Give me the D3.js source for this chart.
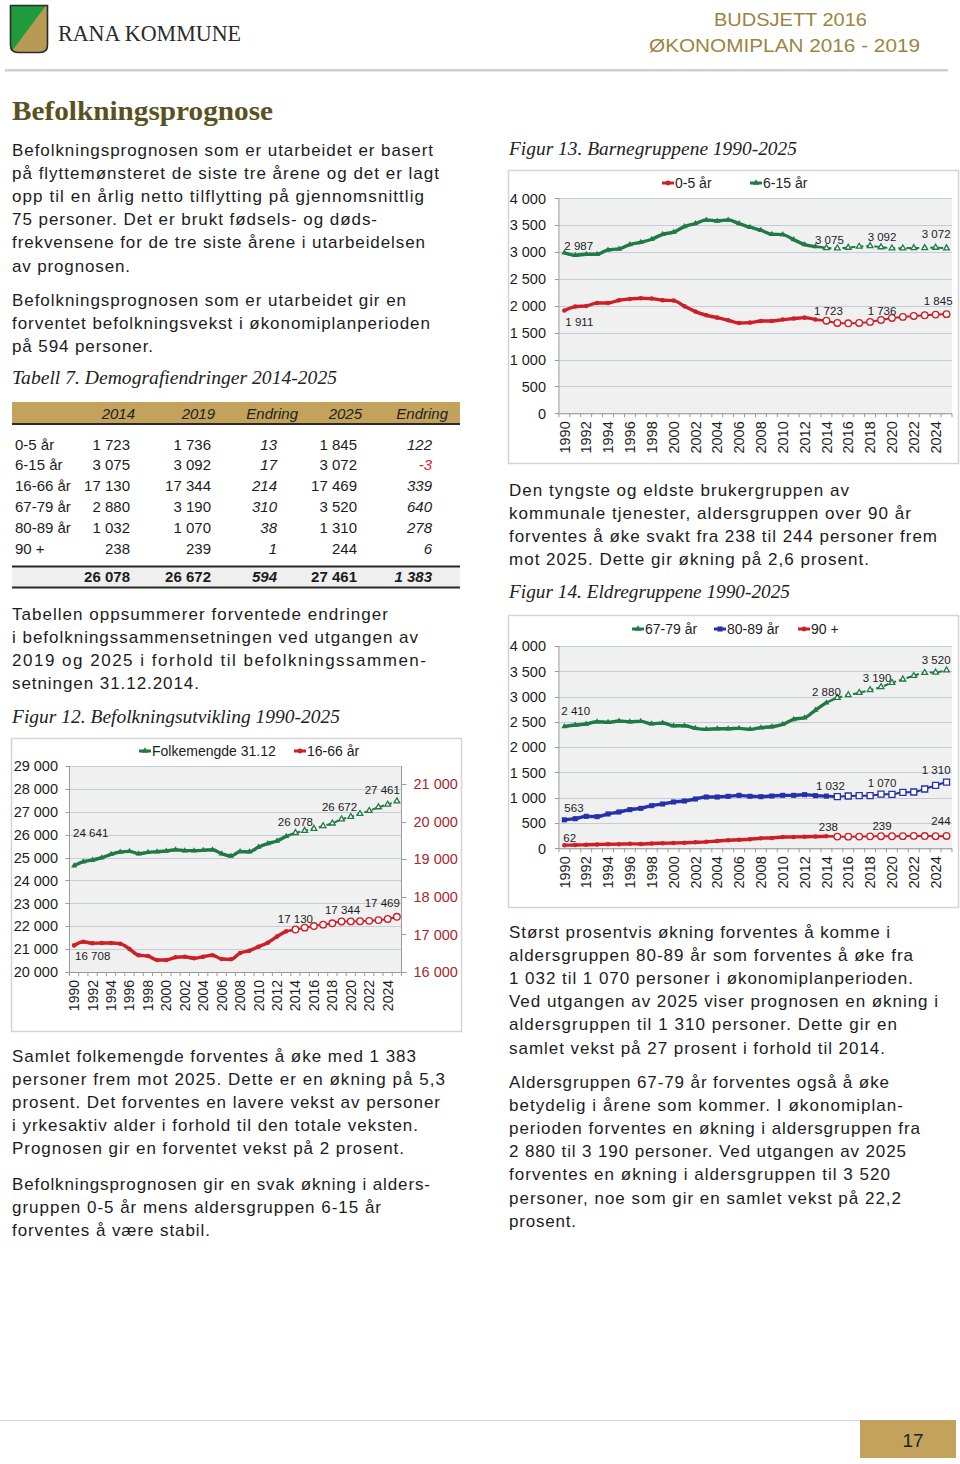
<!DOCTYPE html>
<html><head><meta charset="utf-8">
<script src="https://cdn.jsdelivr.net/npm/d3@7"></script>
<style>
body{margin:0;background:#fff}
svg{display:block;font-family:"Liberation Sans",Arial,sans-serif}
</style>
</head><body>
<svg id="page" width="960" height="1464"></svg>
<script>
// ---------------- DATA ----------------
const years = [1990,1991,1992,1993,1994,1995,1996,1997,1998,1999,2000,2001,2002,2003,2004,2005,2006,2007,2008,2009,2010,2011,2012,2013,2014,2015,2016,2017,2018,2019,2020,2021,2022,2023,2024,2025];
const yearTickLabels = [1990,1992,1994,1996,1998,2000,2002,2004,2006,2008,2010,2012,2014,2016,2018,2020,2022,2024];

// Figur 12
const folkemengde = [24641,24820,24893,24994,25142,25243,25272,25169,25228,25257,25287,25344,25301,25301,25316,25344,25169,25070,25260,25250,25460,25610,25725,25930,26078,26174,26261,26377,26493,26672,26783,26913,27043,27203,27319,27461];
const aar16_66 = [16708,16806,16763,16771,16771,16753,16612,16444,16426,16319,16319,16390,16407,16364,16407,16444,16346,16337,16506,16568,16674,16781,16941,17083,17130,17179,17223,17259,17295,17344,17345,17350,17360,17380,17410,17469];
const fig12LeftTicks = [20000,21000,22000,23000,24000,25000,26000,27000,28000,29000];
const fig12RightTicks = [16000,17000,18000,19000,20000,21000];

// Figur 13
const aar0_5 = [1911,1985,1998,2053,2053,2103,2128,2140,2134,2103,2097,1991,1892,1824,1780,1731,1681,1687,1718,1718,1743,1762,1780,1743,1723,1681,1675,1681,1700,1736,1774,1793,1811,1824,1836,1845];
const aar6_15 = [2987,2940,2959,2959,3040,3058,3139,3182,3238,3331,3369,3474,3530,3598,3579,3598,3530,3462,3406,3331,3325,3232,3139,3102,3075,3071,3083,3102,3114,3092,3071,3071,3077,3077,3083,3072];

// Figur 14
const aar67_79 = [2410,2437,2457,2503,2490,2516,2503,2510,2464,2477,2424,2424,2372,2352,2365,2365,2372,2352,2385,2404,2451,2549,2582,2734,2880,2978,3030,3076,3129,3190,3274,3340,3412,3471,3478,3520];
const aar80_89 = [563,586,632,626,679,718,764,790,843,876,916,935,975,1014,1014,1028,1047,1028,1021,1034,1047,1047,1061,1041,1032,1021,1034,1041,1041,1070,1067,1107,1113,1173,1245,1310];
const aar90 = [62,65,70,75,80,82,88,85,95,100,105,110,118,128,145,158,168,180,200,205,222,225,228,232,238,232,230,232,236,239,238,240,245,242,240,244];
const smallTicks = [0,500,1000,1500,2000,2500,3000,3500,4000];

// Tabell 7
const tableHeader = ["2014","2019","Endring","2025","Endring"];
const tableRows = ["0-5 år","6-15 år","16-66 år","67-79 år","80-89 år","90 +"];
const val2014 = [1723,3075,17130,2880,1032,238];
const val2019 = [1736,3092,17344,3190,1070,239];
const chg2019 = [13,17,214,310,38,1];
const val2025 = [1845,3072,17469,3520,1310,244];
const chg2025 = [122,-3,339,640,278,6];
const tableTotals = [26078,26672,594,27461,1383];

// ---------------- HELPERS ----------------
const svg = d3.select("#page");
const NF = d3.formatLocale({decimal:",",thousands:" ",grouping:[3],currency:["",""],minus:"-"}).format(",d");
const GREEN = "#1f7a45", RED = "#cc1f26", BLUE = "#2630a8", GOLD = "#c3a35c";
const SERIF = '"Liberation Serif","DejaVu Serif",serif';

function line(x, y, str, o) {
  o = o || {};
  const t = svg.append("text").attr("x", x).attr("y", y).text(str)
    .attr("font-size", o.size || 17)
    .attr("fill", o.fill || "#1c1c1c");
  if (o.family) t.style("font-family", o.family);
  if (o.weight) t.attr("font-weight", o.weight);
  if (o.style) t.attr("font-style", o.style);
  if (o.anchor) t.attr("text-anchor", o.anchor);
  if (o.width) t.attr("textLength", o.width).attr("lengthAdjust", o.adjust || "spacing");
  return t;
}

// ---------------- HEADER ----------------
const logo = svg.append("g");
logo.append("path").attr("d","M10.5,5.5 H47.5 V45 Q47.5,52.5 40,52.5 H18 Q10.5,52.5 10.5,45 Z").attr("fill","#b89a55");
logo.append("path").attr("d","M10.5,5.5 H46 L12,51 Q10.5,49 10.5,45 Z").attr("fill","#1f9a3c");
logo.append("path").attr("d","M10.5,5.5 H47.5 V45 Q47.5,52.5 40,52.5 H18 Q10.5,52.5 10.5,45 Z").attr("fill","none").attr("stroke","#2a2a2a").attr("stroke-width",1.6);
line(58, 41, "RANA KOMMUNE", {size:23, family:SERIF, fill:"#2b2b2b", width:183, adjust:"spacingAndGlyphs"});
line(714, 26, "BUDSJETT 2016", {size:19, fill:"#9a8540", width:153, adjust:"spacingAndGlyphs"});
line(649, 52, "ØKONOMIPLAN 2016 - 2019", {size:19, fill:"#9a8540", width:271, adjust:"spacingAndGlyphs"});
svg.append("rect").attr("x",5).attr("y",69).attr("width",943).attr("height",2.5).attr("fill","#cfcfcf");

// ---------------- TEXT ----------------
line(12, 120, "Befolkningsprognose", {size:27, family:SERIF, weight:"bold", fill:"#5a5122", width:261, adjust:"spacingAndGlyphs"});

const blocks = [
  {x:12, y:156, lines:[
    ["Befolkningsprognosen som er utarbeidet er basert",421],
    ["på flyttemønsteret de siste tre årene og det er lagt",427],
    ["opp til en årlig netto tilflytting på gjennomsnittlig",412],
    ["75 personer. Det er brukt fødsels- og døds-",365],
    ["frekvensene for de tre siste årene i utarbeidelsen",413],
    ["av prognosen.",118]]},
  {x:12, y:306, lines:[
    ["Befolkningsprognosen som er utarbeidet gir en",394],
    ["forventet befolkningsvekst i økonomiplanperioden",418],
    ["på 594 personer.",141]]},
  {x:12, y:620, lines:[
    ["Tabellen oppsummerer forventede endringer",376],
    ["i befolkningssammensetningen ved utgangen av",406],
    ["2019 og 2025 i forhold til befolkningssammen-",414],
    ["setningen 31.12.2014.",187]]},
  {x:12, y:1062, lines:[
    ["Samlet folkemengde forventes å øke med 1 383",404],
    ["personer frem mot 2025. Dette er en økning på 5,3",433],
    ["prosent. Det forventes en lavere vekst av personer",428],
    ["i yrkesaktiv alder i forhold til den totale veksten.",406],
    ["Prognosen gir en forventet vekst på 2 prosent.",392]]},
  {x:12, y:1190, lines:[
    ["Befolkningsprognosen gir en svak økning i alders-",418],
    ["gruppen 0-5 år mens aldersgruppen 6-15 år",369],
    ["forventes å være stabil.",198]]},
  {x:509, y:496, lines:[
    ["Den tyngste og eldste brukergruppen av",340],
    ["kommunale tjenester, aldersgruppen over 90 år",402],
    ["forventes å øke svakt fra 238 til 244 personer frem",428],
    ["mot 2025. Dette gir økning på 2,6 prosent.",360]]},
  {x:509, y:938, lines:[
    ["Størst prosentvis økning forventes å komme i",381],
    ["aldersgruppen 80-89 år som forventes å øke fra",404],
    ["1 032 til 1 070 personer i økonomiplanperioden.",404],
    ["Ved utgangen av 2025 viser prognosen en økning i",429],
    ["aldersgruppen til 1 310 personer. Dette gir en",388],
    ["samlet vekst på 27 prosent i forhold til 2014.",376]]},
  {x:509, y:1088, lines:[
    ["Aldersgruppen 67-79 år forventes også å øke",380],
    ["betydelig i årene som kommer. I økonomiplan-",394],
    ["perioden forventes en økning i aldersgruppen fra",411],
    ["2 880 til 3 190 personer. Ved utgangen av 2025",397],
    ["forventes en økning i aldersgruppen til 3 520",381],
    ["personer, noe som gir en samlet vekst på 22,2",392],
    ["prosent.",67]]}
];
blocks.forEach(b => b.lines.forEach((l, i) => line(b.x, b.y + i * 23.1, l[0], {width:l[1]})));

const capOpts = {size:19, family:SERIF, style:"italic", fill:"#222", adjust:"spacingAndGlyphs"};
line(12, 384, "Tabell 7. Demografiendringer 2014-2025", Object.assign({width:325}, capOpts));
line(12, 723, "Figur 12. Befolkningsutvikling 1990-2025", Object.assign({width:328}, capOpts));
line(509, 155, "Figur 13. Barnegruppene 1990-2025", Object.assign({width:288}, capOpts));
line(509, 598, "Figur 14. Eldregruppene 1990-2025", Object.assign({width:281}, capOpts));

// ---------------- TABLE ----------------
svg.append("rect").attr("x",12).attr("y",402).attr("width",448).attr("height",21).attr("fill",GOLD);
svg.append("rect").attr("x",12).attr("y",423).attr("width",448).attr("height",2).attr("fill","#2a2a2a");
const hdrRight = [135,215,298,362,448];
const colRight = [130,211,277,357,432];
tableHeader.forEach((h,i) => line(hdrRight[i], 419, h, {size:15, style:"italic", anchor:"end", fill:"#222"}));
const cols = [val2014, val2019, chg2019, val2025, chg2025];
tableRows.forEach((r, ri) => {
  const by = 449.5 + ri * 20.8;
  line(15, by, r, {size:15});
  cols.forEach((c, ci) => {
    const v = c[ri];
    line(colRight[ci], by, NF(v), {size:15, anchor:"end", style:(ci===2||ci===4)?"italic":null, fill: v < 0 ? "#d42a2a" : "#1c1c1c"});
  });
});
svg.append("rect").attr("x",12).attr("y",567).attr("width",448).attr("height",20).attr("fill","#efefef");
svg.append("rect").attr("x",12).attr("y",565.5).attr("width",448).attr("height",2).attr("fill","#2a2a2a");
svg.append("rect").attr("x",12).attr("y",586.5).attr("width",448).attr("height",2).attr("fill","#2a2a2a");
tableTotals.forEach((v,i) => line(colRight[i], 582, NF(v), {size:15, weight:"bold", anchor:"end", style:(i===2||i===4)?"italic":null}));

// ---------------- FOOTER ----------------
svg.append("rect").attr("x",0).attr("y",1420).attr("width",860).attr("height",1).attr("fill","#d6d6d6");
svg.append("rect").attr("x",860).attr("y",1420).attr("width",96).attr("height",38).attr("fill",GOLD);
line(913, 1447, "17", {size:19, anchor:"middle", fill:"#222"});

// ---------------- CHARTS ----------------
const SYM = {tri: d3.symbolTriangle, circ: d3.symbolCircle, sq: d3.symbolSquare};

function chart(cfg) {
  const g = svg.append("g");
  const [bx0, by0, bx1, by1] = cfg.box;
  g.append("rect").attr("x",bx0+0.5).attr("y",by0+0.5).attr("width",bx1-bx0).attr("height",by1-by0)
    .attr("fill","#fff").attr("stroke","#d4d4d4").attr("stroke-width",1.5);
  const p = cfg.plot;
  const x = d3.scalePoint().domain(years).range([p.x0, p.x1]).padding(0.5);
  const step = x.step();
  const yL = d3.scaleLinear().domain(cfg.leftDomain).range([p.yb, p.yt]);
  const yR = cfg.rightDomain ? d3.scaleLinear().domain(cfg.rightDomain).range([p.yb, p.yt]) : null;

  g.append("rect").attr("x",p.x0).attr("y",p.yt).attr("width",p.x1-p.x0).attr("height",p.yb-p.yt).attr("fill","#f0f0f0");
  g.selectAll(null).data(cfg.leftTicks).join("line")
    .attr("x1",p.x0).attr("x2",p.x1).attr("y1",d=>Math.round(yL(d))+0.5).attr("y2",d=>Math.round(yL(d))+0.5)
    .attr("stroke","#c3ccd8").attr("stroke-width",1);
  g.append("line").attr("x1",p.x0).attr("x2",p.x0).attr("y1",p.yt).attr("y2",p.yb).attr("stroke","#9a9a9a");
  g.selectAll(null).data(cfg.leftTicks).join("line")
    .attr("x1",p.x0-4).attr("x2",p.x0).attr("y1",d=>Math.round(yL(d))+0.5).attr("y2",d=>Math.round(yL(d))+0.5).attr("stroke","#9a9a9a");
  g.selectAll(null).data(cfg.leftTicks).join("text")
    .attr("x",cfg.leftLabelX).attr("y",d=>yL(d)).attr("dy","0.36em").attr("text-anchor","end")
    .attr("font-size",cfg.axisSize).attr("fill","#1c1c1c").text(d=>NF(d));
  if (yR) {
    g.append("line").attr("x1",p.x1).attr("x2",p.x1).attr("y1",p.yt).attr("y2",p.yb).attr("stroke","#9a9a9a");
    g.selectAll(null).data(cfg.rightTicks).join("line")
      .attr("x1",p.x1).attr("x2",p.x1+5).attr("y1",d=>Math.round(yR(d))+0.5).attr("y2",d=>Math.round(yR(d))+0.5).attr("stroke","#9a9a9a");
    g.selectAll(null).data(cfg.rightTicks).join("text")
      .attr("x",p.x1+12).attr("y",d=>yR(d)).attr("dy","0.36em")
      .attr("font-size",cfg.axisSize).attr("fill","#a8282c").text(d=>NF(d));
  }
  g.append("line").attr("x1",p.x0).attr("x2",p.x1).attr("y1",p.yb+0.5).attr("y2",p.yb+0.5).attr("stroke","#9a9a9a");
  g.selectAll(null).data(years).join("line")
    .attr("x1",d=>x(d)-step/2).attr("x2",d=>x(d)-step/2).attr("y1",p.yb).attr("y2",p.yb+4).attr("stroke","#9a9a9a");
  g.append("line").attr("x1",p.x1).attr("x2",p.x1).attr("y1",p.yb).attr("y2",p.yb+4).attr("stroke","#9a9a9a");
  g.selectAll(null).data(yearTickLabels).join("text")
    .attr("transform",d=>`translate(${x(d)},${p.yb+8}) rotate(-90)`)
    .attr("dy","0.36em").attr("text-anchor","end").attr("font-size",cfg.yearSize).attr("fill","#1c1c1c").text(d=>d);

  cfg.series.forEach(s => {
    const y = s.axis === "right" ? yR : yL;
    const pts = years.map((yr,i) => ({yr, v:s.values[i]}));
    const fi = years.indexOf(s.forecastFrom);
    const lg = d3.line().x(d=>x(d.yr)).y(d=>y(d.v)).curve(d3.curveMonotoneX);
    g.append("path").attr("d", lg(pts.slice(0, fi))).attr("fill","none").attr("stroke",s.color).attr("stroke-width",3.4).attr("stroke-linejoin","round");
    g.append("path").attr("d", lg(pts.slice(fi-1, fi+1))).attr("fill","none").attr("stroke",s.color).attr("stroke-width",2.6);
    g.append("path").attr("d", lg(pts.slice(fi))).attr("fill","none").attr("stroke",s.color).attr("stroke-width",s.dash?2:2)
      .attr("stroke-dasharray", s.dash || null);
    const sym = d3.symbol().type(SYM[s.symbol]);
    g.selectAll(null).data(pts.slice(0, fi)).join("path")
      .attr("d", sym.size(s.symbol==="sq"?26:16)())
      .attr("transform", d=>`translate(${x(d.yr)},${y(d.v)})`).attr("fill",s.color);
    g.selectAll(null).data(pts.slice(fi)).join("path")
      .attr("d", sym.size(s.symbol==="tri"?14:(s.symbol==="sq"?36:34))())
      .attr("transform", d=>`translate(${x(d.yr)},${y(d.v)})`).attr("fill","#fff").attr("stroke",s.color).attr("stroke-width",1.3);
  });

  cfg.labels.forEach(l => {
    const s = cfg.series[l[0]];
    const y = s.axis === "right" ? yR : yL;
    const i = years.indexOf(l[1]);
    g.append("text").attr("x", x(l[1]) + l[3]).attr("y", y(s.values[i]) + l[4]).attr("dy","0.36em")
      .attr("text-anchor", l[2]).attr("font-size", 11.5).attr("fill","#1c1c1c").text(NF(s.values[i]));
  });

  cfg.legend.forEach(it => {
    const s = cfg.series[it.s];
    g.append("line").attr("x1",it.x).attr("x2",it.x+12).attr("y1",cfg.legendY).attr("y2",cfg.legendY).attr("stroke",s.color).attr("stroke-width",3);
    g.append("path").attr("d", d3.symbol().type(SYM[s.symbol]).size(s.symbol==="sq"?26:18)())
      .attr("transform",`translate(${it.x+6},${cfg.legendY})`).attr("fill",s.color);
    g.append("text").attr("x",it.x+13).attr("y",cfg.legendY).attr("dy","0.36em").attr("font-size",cfg.legendSize).attr("fill","#1c1c1c").text(s.name);
  });
}

chart({
  box:[11,738,461,1031],
  plot:{x0:69.5, x1:401.5, yt:766, yb:972},
  leftDomain:[20000,29000], leftTicks:fig12LeftTicks, leftLabelX:58,
  rightDomain:[16000,21479], rightTicks:fig12RightTicks,
  axisSize:14.5, yearSize:14, legendSize:14, legendY:751,
  series:[
    {name:"Folkemengde 31.12", values:folkemengde, color:GREEN, symbol:"tri", axis:"left", forecastFrom:2014, dash:"5,3"},
    {name:"16-66 år", values:aar16_66, color:RED, symbol:"circ", axis:"right", forecastFrom:2014}
  ],
  legend:[{s:0,x:139},{s:1,x:294}],
  labels:[[0,1990,"start",-1,-33],[0,2014,"middle",0,-11],[0,2019,"middle",-2,-12],[0,2025,"end",3,-11],
          [1,1990,"start",1,10],[1,2014,"middle",0,-11],[1,2019,"middle",1,-11.5],[1,2025,"end",3,-14]]
});

chart({
  box:[508,170,958,463],
  plot:{x0:558.9, x1:952, yt:198.3, yb:413.3},
  leftDomain:[0,4000], leftTicks:smallTicks, leftLabelX:546,
  axisSize:14.5, yearSize:14.5, legendSize:14, legendY:183,
  series:[
    {name:"0-5 år", values:aar0_5, color:RED, symbol:"circ", axis:"left", forecastFrom:2014},
    {name:"6-15 år", values:aar6_15, color:GREEN, symbol:"tri", axis:"left", forecastFrom:2014, dash:"5,3"}
  ],
  legend:[{s:0,x:662},{s:1,x:750}],
  labels:[[1,1990,"start",0,-7],[0,1990,"start",1,11],[1,2014,"middle",3,-8],[1,2019,"middle",1,-10],[1,2025,"end",4,-14],
          [0,2014,"middle",2,-10],[0,2019,"middle",1,-9],[0,2025,"end",6,-13]]
});

chart({
  box:[508,615,958,907],
  plot:{x0:558.9, x1:952, yt:646, yb:848.3},
  leftDomain:[0,4000], leftTicks:smallTicks, leftLabelX:546,
  axisSize:14.5, yearSize:14.5, legendSize:14, legendY:629,
  series:[
    {name:"67-79 år", values:aar67_79, color:GREEN, symbol:"tri", axis:"left", forecastFrom:2015, dash:"5,3"},
    {name:"80-89 år", values:aar80_89, color:BLUE, symbol:"sq", axis:"left", forecastFrom:2015},
    {name:"90 +", values:aar90, color:RED, symbol:"circ", axis:"left", forecastFrom:2015}
  ],
  legend:[{s:0,x:632},{s:1,x:714},{s:2,x:798}],
  labels:[[0,1990,"start",-3,-16],[1,1990,"start",0,-12],[2,1990,"start",-1,-7],
          [0,2014,"middle",0,-11],[0,2019,"middle",-4,-9],[0,2025,"end",4,-10],
          [1,2014,"middle",4,-10],[1,2019,"middle",1,-11],[1,2025,"end",4,-12],
          [2,2014,"middle",2,-9],[2,2019,"middle",1,-10],[2,2025,"end",4,-15]]
});
</script>
</body></html>
